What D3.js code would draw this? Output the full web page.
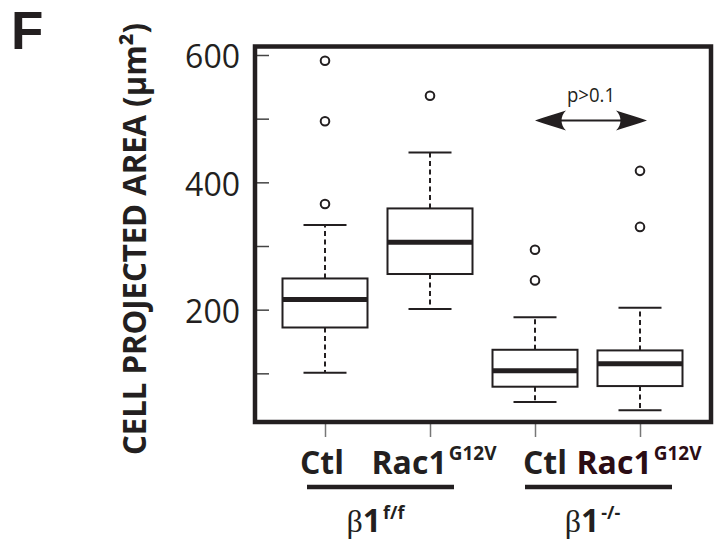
<!DOCTYPE html>
<html><head><meta charset="utf-8">
<script src="https://cdn.jsdelivr.net/npm/d3@7"></script>
<style>html,body{margin:0;padding:0;background:#fff;} svg{display:block;}</style>
</head><body>
<svg id="chart" width="715" height="540"></svg>
<script>
// ---- data ----
const categories = ["Ctl", "Rac1", "Ctl", "Rac1"];
const categorySup = ["", "G12V", "", "G12V"];
const groupNames = ["β", "β"];
const groupNums = ["1", "1"];
const groupSup = ["f/f", "-/-"];
const whiskerLow = [101, 201, 55, 42];
const q1 = [172, 256, 79, 80];
const median = [216, 306, 104, 115];
const q3 = [249, 359, 137, 136];
const whiskerHigh = [333, 447, 188, 203];
const outliers = [[591, 496, 366], [536], [294, 246], [418, 330]];
const yTicks = [100, 200, 300, 400, 500, 600];
const yTickLabels = [200, 400, 600];
const pLabel = "p>0.1";
const yTitle = "CELL PROJECTED AREA (μm²)";
const panelLetter = "F";

// ---- layout ----
const ink = "#231f20";
const svg = d3.select("#chart");
const frame = {x0: 255, x1: 711, y0: 46.5, y1: 422};
const y = d3.scaleLinear().domain([0, 600]).range([437, 55]);
const idx = categories.map((d, i) => i);
const x = d3.scalePoint().domain(idx).range([272.5, 692.5]).padding(0.5);
const boxW = 85, capW = 43;
const font = "'Open Sans', 'Noto Sans', sans-serif";

// panel letter
svg.append("text").attr("x", 11).attr("y", 49)
  .attr("font-family", "'Liberation Sans', Arial, sans-serif").attr("font-weight", 700).attr("font-size", 53)
  .attr("fill", ink).text(panelLetter);

// y title
svg.append("text")
  .attr("transform", "translate(146,239) rotate(-90)")
  .attr("text-anchor", "middle")
  .attr("font-family", font).attr("font-weight", 700).attr("font-size", 32)
  .attr("fill", ink)
  .attr("textLength", 432).attr("lengthAdjust", "spacingAndGlyphs")
  .text(yTitle);

// inner y ticks
const gTicks = svg.append("g").attr("transform", `translate(${frame.x0},0)`)
  .call(d3.axisRight(y).tickValues(yTicks).tickSize(14).tickFormat(""));
gTicks.select(".domain").remove();
gTicks.selectAll("line").attr("stroke", "#444").attr("stroke-width", 1.5);

// y tick labels
const gLab = svg.append("g").attr("transform", `translate(${frame.x0},0)`)
  .call(d3.axisLeft(y).tickValues(yTickLabels).tickSize(0).tickPadding(15));
gLab.select(".domain").remove();
gLab.selectAll("text").attr("font-family", font).attr("font-size", 32)
  .attr("fill", ink).attr("dy", "0.4em");

// x ticks
const gX = svg.append("g").attr("transform", `translate(0,${frame.y1 + 2})`)
  .call(d3.axisBottom(x).tickSize(13).tickFormat(""));
gX.select(".domain").remove();
gX.selectAll("line").attr("stroke", "#777").attr("stroke-width", 1.5);

// boxes
const boxes = svg.append("g");
idx.forEach(i => {
  const cx = x(i);
  const g = boxes.append("g");
  [[q3[i], whiskerHigh[i]], [q1[i], whiskerLow[i]]].forEach(([a, b]) => {
    g.append("line").attr("x1", cx).attr("x2", cx).attr("y1", y(a)).attr("y2", y(b))
      .attr("stroke", ink).attr("stroke-width", 2).attr("stroke-dasharray", "5,3.5");
    g.append("line").attr("x1", cx - capW / 2).attr("x2", cx + capW / 2)
      .attr("y1", y(b)).attr("y2", y(b)).attr("stroke", ink).attr("stroke-width", 2);
  });
  g.append("rect").attr("x", cx - boxW / 2).attr("width", boxW)
    .attr("y", y(q3[i])).attr("height", y(q1[i]) - y(q3[i]))
    .attr("fill", "#fff").attr("stroke", ink).attr("stroke-width", 2);
  g.append("line").attr("x1", cx - boxW / 2).attr("x2", cx + boxW / 2)
    .attr("y1", y(median[i])).attr("y2", y(median[i]))
    .attr("stroke", ink).attr("stroke-width", 5);
  g.selectAll("circle").data(outliers[i]).join("circle")
    .attr("cx", cx).attr("cy", d => y(d)).attr("r", 4.3)
    .attr("fill", "none").attr("stroke", ink).attr("stroke-width", 2);
});

// frame
svg.append("rect").attr("x", frame.x0).attr("y", frame.y0)
  .attr("width", frame.x1 - frame.x0).attr("height", frame.y1 - frame.y0)
  .attr("fill", "none").attr("stroke", ink).attr("stroke-width", 4.5);

// significance arrow
const ax0 = x(2), ax1 = x(3) + 7, ay = 120.5;
svg.append("line").attr("x1", ax0 + 8).attr("x2", ax1 - 8).attr("y1", ay).attr("y2", ay)
  .attr("stroke", ink).attr("stroke-width", 2);
const head = "M0,0 C-9,-3 -21,-7 -31,-10 C-25,-4 -25,4 -31,10 C-21,7 -9,3 0,0 Z";
svg.append("path").attr("d", head).attr("transform", `translate(${ax1},${ay})`).attr("fill", ink);
svg.append("path").attr("d", head).attr("transform", `translate(${ax0},${ay}) scale(-1,1)`).attr("fill", ink);
svg.append("text").attr("x", (ax0 + ax1) / 2).attr("y", 101.5).attr("text-anchor", "middle")
  .attr("font-family", font).attr("font-size", 20).attr("fill", ink)
  .attr("textLength", 48).attr("lengthAdjust", "spacingAndGlyphs").text(pLabel);

// category labels
const labelDx = [-3, 4, 10, -1];
const labelFill = [ink, ink, ink, "#2b0c14"];
idx.forEach(i => {
  const t = svg.append("text").attr("x", x(i) + labelDx[i]).attr("y", 473.5)
    .attr("text-anchor", "middle").attr("font-family", font).attr("font-weight", 700)
    .attr("font-size", 32).attr("fill", labelFill[i]);
  t.append("tspan").text(categories[i]);
  if (categorySup[i]) {
    t.append("tspan").attr("font-size", 19).attr("dy", -14).attr("dx", 2).text(categorySup[i]);
  }
});

// group underlines and labels
const groupSpans = [[x(0) - 18, x(1) + 24], [x(2) - 10, x(3) + 32]];
const groupDx = [-5, -6];
groupSpans.forEach(([a, b], k) => {
  svg.append("line").attr("x1", a).attr("x2", b).attr("y1", 487).attr("y2", 487)
    .attr("stroke", ink).attr("stroke-width", 4.3);
  const t = svg.append("text").attr("x", (a + b) / 2 + groupDx[k]).attr("y", 531.5)
    .attr("text-anchor", "middle").attr("fill", ink).attr("font-size", 32);
  t.append("tspan").attr("font-family", "'Liberation Serif', 'DejaVu Serif', serif").text(groupNames[k]);
  t.append("tspan").attr("font-family", font).attr("font-weight", 700).text(groupNums[k]);
  t.append("tspan").attr("font-family", font).attr("font-weight", 700).attr("font-size", 18)
    .attr("dy", -13).attr("dx", 2).text(groupSup[k]);
});
</script>
</body></html>
